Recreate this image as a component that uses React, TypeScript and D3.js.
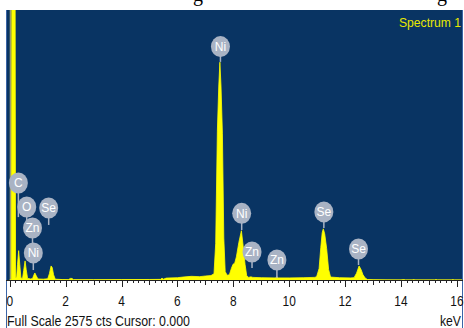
import React from 'react';
import * as d3 from 'd3';

// Spectrum (keV, counts)
const energies = [
  0.0, 0.06, 0.08, 0.19, 0.21, 0.25, 0.28, 0.32, 0.36, 0.40,
  0.46, 0.50, 0.55, 0.59, 0.64, 0.75, 0.82, 0.86, 0.90, 0.95,
  1.01, 1.20, 1.36, 1.42, 1.48, 1.52, 1.57, 1.63, 1.90, 2.10,
  2.17, 2.23, 2.28, 3.00, 4.00, 5.00, 5.40, 5.45, 5.50, 5.60,
  6.00, 6.20, 6.50, 6.80, 7.00, 7.20, 7.31, 7.37, 7.43, 7.48,
  7.52, 7.56, 7.61, 7.66, 7.71, 7.78, 7.86, 7.93, 7.99, 8.05,
  8.11, 8.20, 8.29, 8.35, 8.42, 8.48, 8.55, 8.63, 8.70, 9.00,
  9.50, 9.56, 9.62, 10.00, 10.50, 10.90, 10.98, 11.07, 11.13, 11.18,
  11.22, 11.27, 11.34, 11.41, 11.48, 11.80, 12.20, 12.32, 12.41, 12.50,
  12.57, 12.64, 12.72, 12.80, 13.00, 13.50, 14.00, 14.10, 14.15, 14.40,
  14.45, 14.50, 15.20, 15.25, 15.30, 15.80, 15.85, 15.90, 16.40,
];
const counts = [
  0, 0, 3500, 3500, 20, 30, 150, 280, 150, 20,
  15, 90, 182, 100, 15, 10, 15, 45, 67, 40,
  10, 8, 12, 60, 134, 120, 50, 8, 4, 3,
  15, 15, 3, 3, 4, 5, 6, 18, 8, 18,
  22, 28, 35, 32, 38, 42, 60, 350, 1420, 1850,
  2077, 1850, 1400, 400, 80, 45, 50, 110, 150, 160,
  220, 360, 470, 330, 150, 40, 25, 30, 25, 22,
  20, 30, 20, 20, 22, 25, 30, 110, 310, 450,
  488, 440, 300, 100, 28, 22, 20, 22, 65, 134,
  100, 50, 18, 5, 2, 1, 0, 4, 0, 0,
  4, 0, 0, 4, 0, 0, 4, 0, 0,
];

const tickLabels = [0, 2, 4, 6, 8, 10, 12, 14, 16];
const fullScale = 2575;

// Element markers: name, energy, level of marker centre (counts), end of stem (counts)
const markerNames = ['C', 'O', 'Se', 'Zn', 'Ni', 'Ni', 'Ni', 'Zn', 'Zn', 'Se', 'Se'];
const markerEnergies = [0.31, 0.61, 1.395, 0.816, 0.845, 7.54, 8.30, 8.67, 9.56, 11.24, 12.48];
const markerLevels = [925, 696, 687, 496, 258, 2226, 636, 267, 191, 649, 296];
const markerStemEnds = [600, 450, 525, 300, 95, 2080, 477, 114, 19, 496, 143];

export default function App() {
  const W = 464;
  const H = 328;
  const left = 6;
  const right = 463;
  const top = 10;
  const bottom = 280;
  const x = d3.scaleLinear().domain([0, 16]).range([9.7, 456.9]);
  const y = d3.scaleLinear().domain([0, fullScale]).range([bottom, top]);

  const pts = energies.map((e, i) => [e, counts[i]] as [number, number]);
  const area = d3
    .area<[number, number]>()
    .x((d) => x(d[0]))
    .y0(bottom)
    .y1((d) => y(d[1]))
    .curve(d3.curveLinear);

  const ticks = d3.range(0, 81).map((i) => i * 0.2).filter((v) => x(v) <= right);

  const font = "'Liberation Sans', Arial, sans-serif";

  return (
    <svg
      width={W}
      height={H}
      viewBox={`0 0 ${W} ${H}`}
      style={{ position: 'absolute', left: 0, top: 0, display: 'block' }}
    >
      <defs>
        <clipPath id="plotclip">
          <rect x={left} y={top} width={right - left} height={bottom - top} />
        </clipPath>
      </defs>
      <rect x={0} y={0} width={W} height={H} fill="#ffffff" />
      {/* cropped caption descenders */}
      <text x={198} y={1} fontFamily="'Liberation Serif', serif" fontSize={20} textAnchor="middle" fill="#000">g</text>
      <text x={442} y={1} fontFamily="'Liberation Serif', serif" fontSize={20} textAnchor="middle" fill="#000">g</text>

      <rect x={left} y={top} width={right - left} height={bottom - top} fill="#093463" />
      <g clipPath="url(#plotclip)">
        <line x1={x(0) + 0.8} x2={x(0) + 0.8} y1={top} y2={bottom} stroke="#9e9e70" strokeWidth={1.6} />
        <path d={area(pts) || ''} fill="#ffff00" stroke="#ffff00" strokeWidth={0.8} />
      </g>

      {/* frame lines */}
      <line x1={left + 0.5} x2={left + 0.5} y1={top} y2={H} stroke="#3b64a6" strokeWidth={1} />
      <line x1={right - 0.5} x2={right - 0.5} y1={top} y2={H} stroke="#3b64a6" strokeWidth={1} />

      {/* element markers */}
      {markerNames.map((n, i) => {
        const cx = x(markerEnergies[i]);
        const cy = y(markerLevels[i]);
        const se = y(markerStemEnds[i]);
        return (
          <g key={'m' + i}>
            <line x1={cx} x2={cx} y1={cy} y2={se} stroke="#a9b3c4" strokeWidth={1.5} />
            <ellipse cx={cx} cy={cy} rx={9.5} ry={10.5} fill="#a9b3c4" />
            <text
              x={cx}
              y={cy + 4.2}
              textAnchor="middle"
              fontFamily={font}
              fontSize={12}
              fill="#ffffff"
            >
              {n}
            </text>
          </g>
        );
      })}

      <text x={461} y={27} textAnchor="end" fontFamily={font} fontSize={13} fill="#e8e800" textLength={62} lengthAdjust="spacingAndGlyphs">
        Spectrum 1
      </text>

      {/* axis */}
      <line x1={left} x2={right} y1={bottom + 0.5} y2={bottom + 0.5} stroke="#222" strokeWidth={1} />
      {ticks.map((t, i) => {
        const isTwo = Math.abs(t / 2 - Math.round(t / 2)) < 1e-6;
        const isOne = Math.abs(t - Math.round(t)) < 1e-6;
        const len = isTwo ? 7 : isOne ? 5 : 3;
        return (
          <line
            key={'t' + i}
            x1={Math.round(x(t)) + 0.5}
            x2={Math.round(x(t)) + 0.5}
            y1={bottom}
            y2={bottom + len}
            stroke="#222"
            strokeWidth={1}
          />
        );
      })}
      {tickLabels.map((t) => (
        <text key={'l' + t} x={x(t)} y={306} textAnchor="middle" fontFamily={font} fontSize={14} fill="#111"
          transform={`translate(${x(t)},0) scale(0.85,1) translate(${-x(t)},0)`}>
          {t}
        </text>
      ))}
      <text x={7} y={326} fontFamily={font} fontSize={14} fill="#111" textLength={183} lengthAdjust="spacingAndGlyphs">
        Full Scale 2575 cts Cursor: 0.000
      </text>
      <text x={461} y={326} textAnchor="end" fontFamily={font} fontSize={14} fill="#111" textLength={21} lengthAdjust="spacingAndGlyphs">
        keV
      </text>
    </svg>
  );
}
